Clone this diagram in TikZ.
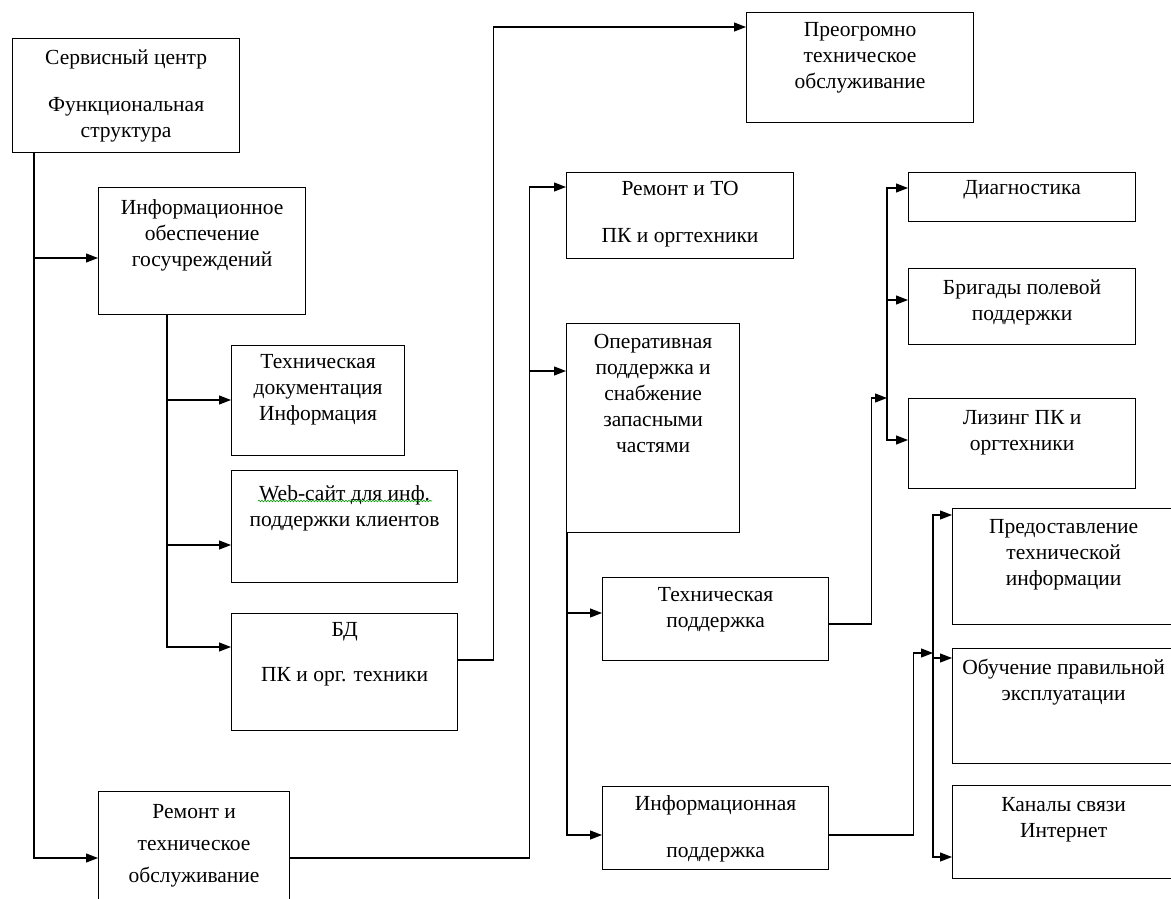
\documentclass[tikz,border=0pt]{standalone}
\usepackage{fontspec}
\setmainfont{Liberation Serif}
\usetikzlibrary{positioning}
\usetikzlibrary{arrows.meta}
\usetikzlibrary{decorations.pathmorphing}
\tikzset{blok/.style={draw,line width=1.2pt,anchor=north west,inner sep=0pt},
         txt/.style={align=center,inner sep=0pt,font=\fontsize{21.5}{26}\selectfont},
         arr/.style={line width=1.2pt,-{Triangle[length=12pt,width=9pt]}}}

\begin{document}
\begin{tikzpicture}[x=1pt,y=-1pt]
\useasboundingbox (0,0) rectangle (1171,899);
% boxes
\node[blok,minimum width=227,minimum height=114] (srv) at (12,38) {};
\node[blok,minimum width=207,minimum height=127] (inf) at (98,187) {};
\node[blok,minimum width=173,minimum height=110] (doc) at (231,345) {};
\node[blok,minimum width=226,minimum height=112] (web) at (231,470) {};
\node[blok,minimum width=226,minimum height=117] (bd) at (231,613) {};
\node[blok,minimum width=191,minimum height=120] (rem) at (98,791) {};
\node[blok,minimum width=227,minimum height=110] (pto) at (746,12) {};
\node[blok,minimum width=227,minimum height=86] (rto) at (566,172) {};
\node[blok,minimum width=173,minimum height=209] (opr) at (566,323) {};
\node[blok,minimum width=226,minimum height=83] (tp) at (602,577) {};
\node[blok,minimum width=226,minimum height=83] (ip) at (602,786) {};
\node[blok,minimum width=227,minimum height=49] (diag) at (908,172) {};
\node[blok,minimum width=227,minimum height=76] (brig) at (908,268) {};
\node[blok,minimum width=227,minimum height=90] (liz) at (908,398) {};
\node[blok,minimum width=222,minimum height=116] (pred) at (952,508) {};
\node[blok,minimum width=222,minimum height=115] (obuch) at (952,648) {};
\node[blok,minimum width=222,minimum height=93] (kan) at (952,785) {};
% texts
\node[txt,below=12pt of srv.north] (srv-t) {Сервисный центр\\[21pt]Функциональная\\структура};
\node[txt,below=12pt of inf.north] (inf-t) {Информационное\\обеспечение\\госучреждений};
\node[txt,below=9pt of doc.north] (doc-t) {Техническая\\документация\\Информация};
\node[txt,below=15pt of web.north] (web-t) {Web-сайт для инф.\\поддержки клиентов};
\node[txt,below=9pt of bd.north] (bd-t) {БД\\[19pt]ПК и орг. техники};
\node[txt,below=13pt of rem.north] (rem-t) {Ремонт и\\[6pt]техническое\\[6pt]обслуживание};
\node[txt,below=10pt of pto.north] (pto-t) {Преогромно\\техническое\\обслуживание};
\node[txt,below=9pt of rto.north] (rto-t) {Ремонт и ТО\\[21pt]ПК и оргтехники};
\node[txt,below=11pt of opr.north] (opr-t) {Оперативная\\поддержка и\\снабжение\\запасными\\частями};
\node[txt,below=10pt of tp.north] (tp-t) {Техническая\\поддержка};
\node[txt,below=9pt of ip.north] (ip-t) {Информационная\\[21pt]поддержка};
\node[txt,below=8pt of diag.north] (diag-t) {Диагностика};
\node[txt,below=12pt of brig.north] (brig-t) {Бригады полевой\\поддержки};
\node[txt,below=12pt of liz.north] (liz-t) {Лизинг ПК и\\оргтехники};
\node[txt,below=11pt of pred.north] (pred-t) {Предоставление\\технической\\информации};
\node[txt,below=11pt of obuch.north] (obuch-t) {Обучение правильной\\эксплуатации};
\node[txt,below=12pt of kan.north] (kan-t) {Каналы связи\\Интернет};
\draw[green!60!black,line width=0.6pt,decorate,decoration={snake,amplitude=0.8pt,segment length=3pt}] (258,501) -- (432,501);
% connectors
\draw[arr] ([xshift=22pt]srv.south west) |- ([yshift=-71pt]inf.north west);
\draw[arr] ([xshift=22pt]srv.south west) |- ([yshift=-67pt]rem.north west);
\draw[arr] ([xshift=69pt]inf.south west) |- ([yshift=-55pt]doc.north west);
\draw[arr] ([xshift=69pt]inf.south west) |- ([yshift=-75pt]web.north west);
\draw[arr] ([xshift=69pt]inf.south west) |- ([yshift=-34pt]bd.north west);
\draw[arr] ([yshift=-47pt]bd.north east) -- ++(35,0) |- ([yshift=-15pt]pto.north west);
\draw[arr] ([yshift=-67pt]rem.north east) -- ++(239,0) |- ([yshift=-15pt]rto.north west);
\draw[arr] ([yshift=-67pt]rem.north east) -- ++(239,0) |- ([yshift=-48pt]opr.north west);
\draw[arr] ([xshift=1pt]opr.south west) |- ([yshift=-36pt]tp.north west);
\draw[arr] ([xshift=1pt]opr.south west) |- ([yshift=-49pt]ip.north west);
\coordinate (tjoin) at (887,398);
\draw[arr] ([yshift=-47pt]tp.north east) -- ++(42,0) |- (tjoin);
\draw[arr] (tjoin) |- ([yshift=-16pt]diag.north west);
\draw[arr] (tjoin) |- ([yshift=-32pt]brig.north west);
\draw[arr] (tjoin) |- ([yshift=-42pt]liz.north west);
\coordinate (ijoin) at (933,653);
\draw[arr] ([yshift=-49pt]ip.north east) -- ++(84,0) |- (ijoin);
\draw[arr] (ijoin) |- ([yshift=-7pt]pred.north west);
\draw[arr] (ijoin) |- ([yshift=-10pt]obuch.north west);
\draw[arr] (ijoin) |- ([yshift=-72pt]kan.north west);
\end{tikzpicture}
\end{document}
